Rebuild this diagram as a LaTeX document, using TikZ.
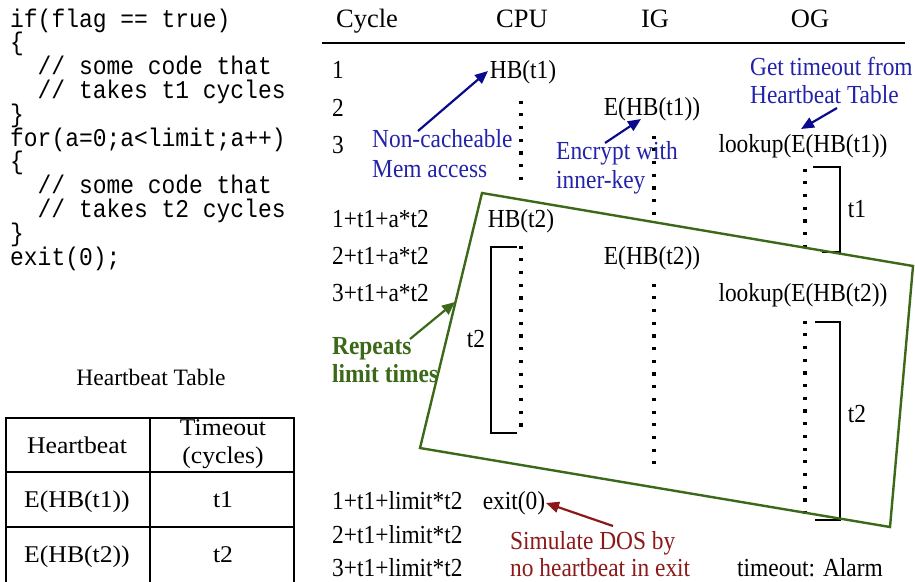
\documentclass[tikz,border=0pt]{standalone}
\usepackage{fontspec}
\setmainfont{Liberation Serif}
\setmonofont{Liberation Mono}
\newfontfamily\bodyfont[FakeStretch=0.9]{Liberation Serif}
\newfontfamily\tablefont[FakeStretch=1.07]{Liberation Serif}
\newfontfamily\codefont[FakeStretch=0.9]{Liberation Mono}
\usetikzlibrary{arrows.meta}
\definecolor{lblblue}{RGB}{35,35,170}
\definecolor{arrblue}{RGB}{10,10,140}
\definecolor{boxgreen}{RGB}{60,105,25}
\definecolor{dosred}{RGB}{140,25,25}
\begin{document}
\begin{tikzpicture}[x=1pt,y=-1pt,
  txt/.style={inner sep=0pt, font=\bodyfont\fontsize{26}{30}\selectfont, anchor=base},
  ltxt/.style={txt, anchor=base west},
  hdr/.style={inner sep=0pt, font=\fontsize{26.5}{30}\selectfont, anchor=base},
  ttl/.style={inner sep=0pt, font=\fontsize{23.5}{28}\selectfont, anchor=base},
  tcell/.style={inner sep=0pt, font=\tablefont\fontsize{24}{28}\selectfont, anchor=base},
  code/.style={inner sep=0pt, font=\codefont\fontsize{25.5}{28}\selectfont, anchor=base west},
  bluetxt/.style={ltxt, text=lblblue},
  greentxt/.style={ltxt, text=boxgreen, font=\bodyfont\bfseries\fontsize{26}{30}\selectfont},
  redtxt/.style={ltxt, text=dosred},
  arr/.style={line width=2.2pt, -{Triangle[length=13pt,width=11pt]}},
  dotline/.style={line width=3.4pt, dash pattern=on 3.2pt off 9.5pt},
  bracket/.style={line width=1.6pt},
  tbl/.style={line width=2pt}
]
\useasboundingbox (0,0) rectangle (915,581);

% ---------- code ----------
\node[code] (c1)  at (10,27)    {if(flag == true)};
\node[code] (c2)  at (10,50.8)  {\{};
\node[code] (c3)  at (37.5,74.6)  {// some code that};
\node[code] (c4)  at (37.5,98.4)  {// takes t1 cycles};
\node[code] (c5)  at (10,122.2) {\}};
\node[code] (c6)  at (10,146)   {for(a=0;a<limit;a++)};
\node[code] (c7)  at (10,169.8) {\{};
\node[code] (c8)  at (37.5,193.6) {// some code that};
\node[code] (c9)  at (37.5,217.4) {// takes t2 cycles};
\node[code] (c10) at (10,241.2) {\}};
\node[code] (c11) at (10,265)   {exit(0);};

% ---------- heartbeat table ----------
\node[ttl] (httitle) at (151,385) {Heartbeat Table};
\draw[tbl] (6,582) -- (6,418) -- (294,418) -- (294,582);
\draw[tbl] (150,418) -- (150,582);
\draw[tbl] (6,472) -- (294,472);
\draw[tbl] (6,527) -- (294,527);
\node[tcell] (thb)  at (77,453)  {Heartbeat};
\node[tcell] (tto1) at (223,435) {Timeout};
\node[tcell] (tto2) at (223,463) {(cycles)};
\node[tcell] (te1)  at (77,507)  {E(HB(t1))};
\node[tcell] (tt1)  at (223,507) {t1};
\node[tcell] (te2)  at (77,562)  {E(HB(t2))};
\node[tcell] (tt2)  at (223,562) {t2};

% ---------- header ----------
\node[hdr] (hcyc) at (367,27) {Cycle};
\node[hdr] (hcpu) at (522,27) {CPU};
\node[hdr] (hig)  at (655,27) {IG};
\node[hdr] (hog)  at (810,27) {OG};
\draw[line width=2pt] (322,43) -- (905,43);

% ---------- cycle labels ----------
\node[ltxt] (r1) at (332,78)  {1};
\node[ltxt] (r2) at (332,116) {2};
\node[ltxt] (r3) at (332,153) {3};
\node[ltxt] (r4) at (332,227) {1+t1+a*t2};
\node[ltxt] (r5) at (332,264) {2+t1+a*t2};
\node[ltxt] (r6) at (332,301) {3+t1+a*t2};
\node[ltxt] (r7) at (332,509) {1+t1+limit*t2};
\node[ltxt] (r8) at (332,543) {2+t1+limit*t2};
\node[ltxt] (r9) at (332,576) {3+t1+limit*t2};

% ---------- events ----------
\node[txt] (hb1)  at (523,78)  {HB(t1)};
\node[txt] (ehb1) at (652,115) {E(HB(t1))};
\node[txt] (lk1)  at (803,152) {lookup(E(HB(t1))};
\node[txt] (hb2)  at (521,227) {HB(t2)};
\node[txt] (ehb2) at (652,264) {E(HB(t2))};
\node[txt] (lk2)  at (803,301) {lookup(E(HB(t2))};
\node[txt] (ex)   at (514,509) {exit(0)};
\node[txt] (alarm) at (810,576) {timeout: Alarm};

% ---------- dotted lifelines ----------
\draw[dotline] (521,100.5) -- (521,183);
\draw[dotline] (654,135.5) -- (654,218);
\draw[dotline] (805,168.5) -- (805,251);
\draw[dotline] (521,245.5) -- (521,434);
\draw[dotline] (654,283.5) -- (654,464);
\draw[dotline] (805,320.5) -- (805,522);

% ---------- brackets ----------
\draw[bracket] (813,167) -- (840,167) -- (840,252) -- (822,252);
\node[txt] (bt1) at (857,217) {t1};
\draw[bracket] (517,247) -- (491,247) -- (491,433) -- (517,433);
\node[txt] (bt2a) at (476,347) {t2};
\draw[bracket] (815,322) -- (840,322) -- (840,520) -- (815,520);
\node[txt] (bt2b) at (857,422) {t2};

% ---------- green loop box ----------
\draw[boxgreen, line width=2.4pt, line join=miter] (482,193) -- (913,266) -- (890,527) -- (420,448) -- cycle;
\coordinate (boxleft) at (455,302);

% ---------- annotations ----------
\node[bluetxt] (nc1) at (372,147) {Non-cacheable};
\node[bluetxt] (nc2) at (372,177) {Mem access};
\coordinate (ncT) at (418,131);
\coordinate (hb1H) at (488,71);
\draw[arr, arrblue] (ncT) -- (hb1H);

\node[bluetxt] (en1) at (556,159) {Encrypt with};
\node[bluetxt] (en2) at (556,188) {inner-key};
\coordinate (enT) at (605,143);
\coordinate (ehb1H) at (641,119);
\draw[arr, arrblue] (enT) -- (ehb1H);

\node[bluetxt] (gt1) at (750,75)  {Get timeout from};
\node[bluetxt] (gt2) at (750,103) {Heartbeat Table};
\coordinate (gtT) at (837,108);
\coordinate (lk1H) at (801,129);
\draw[arr, arrblue] (gtT) -- (lk1H);

\node[greentxt] (rp1) at (332,354) {Repeats};
\node[greentxt] (rp2) at (332,382) {limit times};
\coordinate (rpT) at (410,339);
\draw[arr, boxgreen] (rpT) -- (boxleft);

\node[redtxt] (ds1) at (510,549) {Simulate DOS by};
\node[redtxt] (ds2) at (510,576) {no heartbeat in exit};
\coordinate (dsT) at (613,526);
\coordinate (exH) at (546,503);
\draw[arr, dosred] (dsT) -- (exH);
\end{tikzpicture}
\end{document}
